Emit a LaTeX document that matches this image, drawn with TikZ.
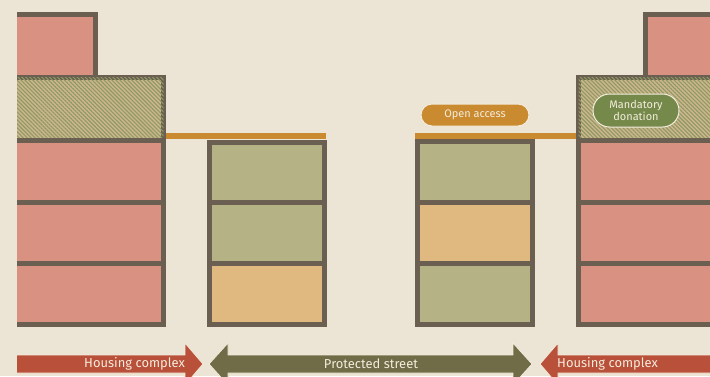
\documentclass[tikz,border=0pt]{standalone}
\usepackage{fontspec}
\setmainfont{Fira Sans}
\usepackage{xcolor}
\usepackage{tikz}
\usetikzlibrary{patterns.meta,shapes.misc}

\definecolor{paper}{HTML}{ECE5D6}
\definecolor{wall}{HTML}{6B5F52}
\definecolor{flat}{HTML}{D99282}
\definecolor{shop}{HTML}{B5B286}
\definecolor{cafe}{HTML}{E0B981}
\definecolor{deck}{HTML}{C98A30}
\definecolor{lawn}{HTML}{74894A}
\definecolor{brick}{HTML}{B9503A}
\definecolor{olive}{HTML}{6F6C47}
\definecolor{hatchbg}{HTML}{CDB58E}
\definecolor{hatchfg}{HTML}{8E9A62}
\definecolor{cream}{HTML}{F4ECDC}

\tikzset{
	floor/.style={draw=wall,line width=5bp,fill=#1},
	donated/.style={draw=wall,line width=5bp,fill=hatchbg,
		postaction={pattern={Lines[angle=-45,distance=2.8bp,line width=1.1bp]},pattern color=hatchfg}},
	tag/.style={rounded rectangle,fill=#1,draw=cream,line width=1bp,text=cream,
		font=\fontsize{11}{12.5}\selectfont,inner sep=0pt,align=center},
	band/.style={fill=#1,draw=cream,line width=0.8bp},
	bandtext/.style={text=cream,font=\fontsize{13}{13}\selectfont,inner sep=0pt}
}

\begin{document}
\begin{tikzpicture}[x=1bp,y=-1bp]
			\useasboundingbox[fill=paper] (0,0) rectangle (710,376);
			\clip (17,0) rectangle (710,376);

			% left block
			\draw[floor=flat] (0,14.5) rectangle (95.5,77.5);
			\draw[donated] (0,77.5) rectangle (163.5,140.5);
			\foreach \t/\b in {140.5/202.5,202.5/263.5,263.5/324.5} {
				\draw[floor=flat] (0,\t) rectangle (163.5,\b);
			}

			% right block
			\draw[floor=flat] (645.5,14.5) rectangle (720,77.5);
			\draw[donated] (578.5,77.5) rectangle (720,140.5);
			\foreach \t/\b in {140.5/202.5,202.5/263.5,263.5/324.5} {
				\draw[floor=flat] (578.5,\t) rectangle (720,\b);
			}

			% street-side pavilions
			\foreach \t/\b/\c in {142/202.5/shop,202.5/263.5/shop,263.5/324.5/cafe} {
				\draw[floor=\c] (209.5,\t) rectangle (324.5,\b);
			}
			\foreach \t/\b/\c in {141/202.5/shop,202.5/263.5/cafe,263.5/324.5/shop} {
				\draw[floor=\c] (417.5,\t) rectangle (532.5,\b);
			}

			% roof decks
			\fill[deck] (166,133) rectangle (326,139);
			\fill[deck] (415,133) rectangle (576,139);

			\node[tag=deck,minimum width=108bp,minimum height=22bp] (open) at (475,115) {Open access};
			\node[tag=lawn,minimum width=86bp,minimum height=33bp] (donation) at (636,110.5) {Mandatory\\donation};

			% bottom bands
			\draw[band=brick] (-5,355) -- (185,355) -- (185,343) -- (203,364) -- (185,385)
				-- (185,373) -- (-5,373) -- cycle;
			\draw[band=olive] (209,364) -- (228,343) -- (228,355) -- (513,355) -- (513,343) -- (532,364)
				-- (513,385) -- (513,373) -- (228,373) -- (228,385) -- cycle;
			\draw[band=brick] (720,355) -- (558,355) -- (558,343) -- (540,364) -- (558,385)
				-- (558,373) -- (720,373) -- cycle;

			\node[bandtext,anchor=east] (homesL) at (185,363.5) {Housing complex};
			\node[bandtext] (street) at (371,363.5) {Protected street};
			\node[bandtext,anchor=west] (homesR) at (557,363.5) {Housing complex};
		\end{tikzpicture}
\end{document}
